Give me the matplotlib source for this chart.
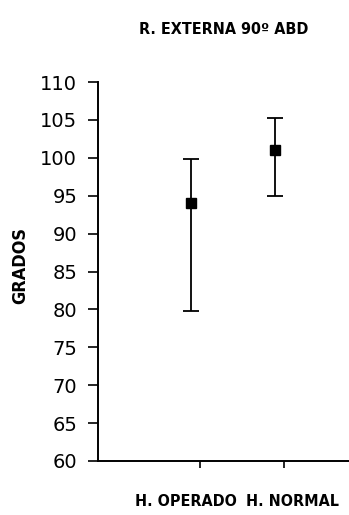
import matplotlib.pyplot as plt
import numpy as np

## Data ##
categories = ['H. OPERADO', 'H. NORMAL']
means = [94.0, 101.0]
lows = [79.8, 95.0]
highs = [99.8, 105.2]
yticks = list(range(60, 111, 5))

## Layout ##
fig = plt.figure(figsize=(3.49, 5.15), dpi=100)
ax = fig.add_axes([98/349, 1 - 461/515, 1 - 98/349, (461 - 82)/515])

pos = np.array([1.11, 2.11])
label_x = [1.05, 2.33]
means = np.array(means)
yerr = [means - np.array(lows), np.array(highs) - means]
ax.errorbar(pos, means, yerr=yerr, fmt='s', color='black', ms=7,
            ecolor='black', elinewidth=1.3, capsize=6, capthick=1.3)

ax.set_xlim(0, 3)
ax.set_ylim(60, 110)
ax.set_yticks(yticks)
ax.set_xticks(pos + 0.11)
ax.set_xticklabels([])
ax.tick_params(axis='y', direction='out', length=7, width=1.2, labelsize=14, pad=8)
ax.tick_params(axis='x', direction='out', length=5, width=1.2)
for s in ['top', 'right']:
    ax.spines[s].set_visible(False)
for s in ['left', 'bottom']:
    ax.spines[s].set_linewidth(1.4)

for lx, c in zip(label_x, categories):
    ax.text(lx, 54.7, c, ha='center', va='center', fontsize=11.5,
            fontweight='bold', fontstretch='condensed')
fig.text(224/349, 1 - 29/515, 'R. EXTERNA 90º ABD', ha='center', va='center',
         fontsize=11.5, fontweight='bold', fontstretch='condensed')
fig.text(20/349, 1 - 265/515, 'GRADOS', ha='center', va='center', rotation=90,
         fontsize=13, fontweight='bold', fontstretch='condensed')

fig.savefig('out.png', dpi=100)
